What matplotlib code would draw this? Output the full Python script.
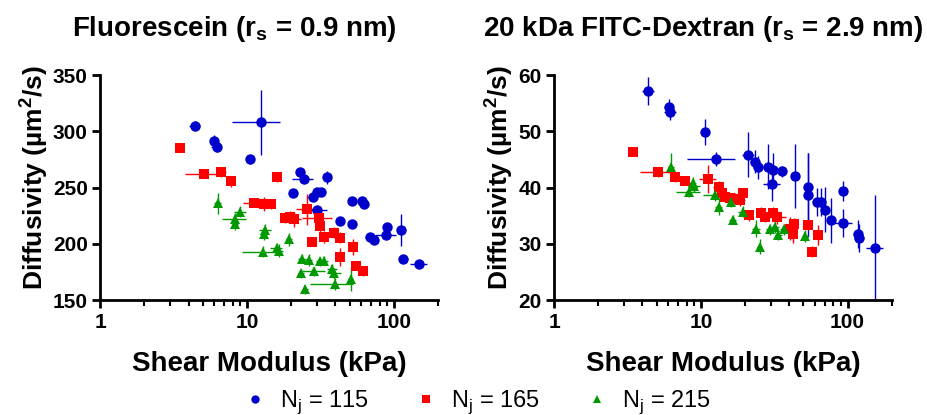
import matplotlib
matplotlib.use("Agg")
import matplotlib.pyplot as plt
from matplotlib.lines import Line2D
from matplotlib.ticker import LogLocator, NullFormatter, FixedLocator

plt.rcParams["font.family"] = ["Liberation Sans", "DejaVu Sans"]
plt.rcParams["mathtext.fontset"] = "custom"
plt.rcParams["mathtext.rm"] = "Liberation Sans"
plt.rcParams["mathtext.bf"] = "Liberation Sans:bold"

# ---- Fluorescein ----
fl_115_x = [4.4, 6.0, 6.2, 12.4, 10.5, 22.9, 24.3, 35.1, 20.6, 28.2, 30.0, 32.0, 30.0,
            43.3, 52.0, 52.0, 60.8, 62.4, 68.6, 73.8, 90.1, 89.1, 112, 116, 148]
fl_115_y = [305, 291.6, 286.3, 308.2, 275.3, 263.5, 257.6, 259, 245.4, 241.9, 245.7, 245.7, 230,
            220, 238.3, 217.3, 238, 235.3, 205.7, 203.3, 215, 207.7, 212.2, 186.4, 182]
fl_115_xerr = [0.4, 0.3, 0.5, 4.5, 0.3, 1.5, 4, 1.5, 0.8, 2, 2, 2, 5,
               1, 1, 1.5, 2, 3, 5, 2, 2, 15, 4, 8, 20]
fl_115_yerr = [4, 5, 5, 29, 4, 4, 3, 6, 3, 4, 3, 3, 3,
               3, 2, 3, 3, 3, 3, 2, 3, 3, 14, 3, 2]

fl_165_x = [3.47, 5.07, 6.68, 7.78, 15.9, 11.1, 13.0, 14.6, 18.1, 19.7, 21.0, 25.7,
            30.8, 31.6, 27.7, 33.3, 39, 42.8, 42.8, 52.8, 55.6, 61.8]
fl_165_y = [284.8, 262, 263.5, 255.5, 259, 235.9, 235.3, 235.3, 222.6, 224, 221.7, 230.6,
            222.6, 216, 201.9, 206, 209.9, 205.4, 188.5, 197.4, 180.5, 175.8]
fl_165_xerr = [0.1, 1.3, 0.5, 0.3, 1.0, 1.7, 0.5, 0.8, 1.2, 2, 2.5, 4,
               7, 1.5, 2, 2, 1, 1.5, 1, 1.5, 2, 2]
fl_165_yerr = [2, 3, 4, 5, 4, 3, 6, 4, 4, 5, 7, 14,
               7, 7, 4, 5, 5, 5, 8, 7, 4, 4]

fl_215_x = [6.3, 8.3, 8.3, 9.0, 13.1, 13.3, 12.8, 15.9, 16.5, 19.3, 23.7, 26.3, 23.3,
            28.8, 31.6, 33.2, 38, 39.4, 25, 40, 50.7]
fl_215_y = [235.9, 222, 218, 228.5, 209, 212, 193, 196, 194, 203.9, 186.5, 185.6, 173.7,
            175.8, 184.7, 185, 177.3, 173.7, 159.5, 164.2, 168.7]
fl_215_xerr = [0.3, 1.5, 0.4, 0.8, 0.8, 1.2, 3.5, 1.5, 1, 1, 1.5, 1.5, 1.2,
               5, 2, 2.5, 3, 4, 1, 13, 2]
fl_215_yerr = [9, 5, 6, 5, 6, 6, 5, 5, 6, 6, 4, 5, 4,
               4, 4, 4, 5, 5, 4, 5, 11]

# ---- 20 kDa FITC-Dextran ----
dx_115_x = [4.4, 6.05, 6.2, 10.7, 12.6, 21.0, 23.5, 24.7, 28.8, 31.2, 36, 30.4,
            44, 53.6, 53.6, 61.5, 65.5, 69.8, 76.8, 92.4, 92.4, 117, 120, 154]
dx_115_y = [57.2, 54.25, 53.5, 49.9, 45.1, 45.8, 44.6, 43.6, 43.7, 43.1, 42.9, 40.6,
            42.0, 40.1, 38.7, 37.5, 37.5, 36.1, 34.2, 33.7, 39.4, 31.7, 31.1, 29.3]
dx_115_xerr = [0.4, 0.4, 0.6, 0.5, 4.5, 2, 2, 2, 2, 2, 2, 4,
               1, 2, 2, 3, 3, 3, 3, 15, 5, 8, 10, 20]
dx_115_yerr = [2.5, 1.5, 1.5, 2.3, 1.2, 4, 2, 2, 4, 3, 1, 3,
               5.7, 6, 7.5, 2.5, 2.5, 4, 4, 2.5, 1.8, 2.5, 2.5, 9.4]

dx_165_x = [3.44, 5.08, 6.72, 7.76, 11.2, 13.2, 13.9, 14.5, 15.7, 17.0, 18.4, 19.4,
            21.2, 25.9, 27.4, 31.2, 32.9, 40.2, 42.9, 42.4, 53.6, 63.1, 57.4]
dx_165_y = [46.25, 42.7, 41.8, 41.2, 41.6, 40.1, 39.1, 38.4, 38.1, 38.0, 37.8, 39.0,
            35.1, 35.5, 34.8, 35.4, 34.8, 32.7, 33.6, 31.7, 33.3, 31.6, 28.6]
dx_165_xerr = [0.1, 1.2, 0.4, 0.4, 1.5, 1, 0.8, 0.8, 1, 1, 1.5, 1,
               1.5, 2, 2, 3, 5, 2, 2, 2, 1.5, 2, 1.5]
dx_165_yerr = [0.3, 0.8, 0.8, 0.8, 2.5, 1, 1, 1, 1, 1, 1, 1,
               1, 1, 1, 1.2, 1.2, 2, 1, 1.5, 0.8, 1.8, 1]

dx_215_x = [6.3, 8.3, 8.8, 9.0, 12.4, 13.2, 16.1, 16.5, 19.4, 23.9, 25.2, 29.6,
            32.1, 33.8, 36.6, 51.6]
dx_215_y = [43.7, 39.3, 40.9, 40.3, 38.7, 36.6, 37.5, 34.3, 35.7, 32.7, 29.5, 32.6,
            33.0, 31.6, 32.6, 31.4]
dx_215_xerr = [0.3, 1.5, 0.5, 0.8, 2, 0.8, 1.5, 1, 1.5, 1.5, 1, 2,
               2, 2, 2, 2]
dx_215_yerr = [2.5, 1, 1, 1, 1, 1.5, 1, 0.8, 1, 1.5, 1.3, 1,
               1, 1, 1, 1]

labels = ["115", "165", "215"]
colors = ["#0000cc", "#ff0000", "#009a00"]
markers = ["o", "s", "^"]

fig = plt.figure(figsize=(9.28, 4.15), dpi=100)
ax1 = fig.add_axes([0.108, 0.277, 0.364, 0.542])
ax2 = fig.add_axes([0.597, 0.277, 0.364, 0.542])

panels = [
    (ax1, [(fl_115_x, fl_115_y, fl_115_xerr, fl_115_yerr),
           (fl_165_x, fl_165_y, fl_165_xerr, fl_165_yerr),
           (fl_215_x, fl_215_y, fl_215_xerr, fl_215_yerr)],
     (150, 350), [150, 200, 250, 300, 350],
     r"Fluorescein (r$_\mathbf{s}$ = 0.9 nm)", 0.398),
    (ax2, [(dx_115_x, dx_115_y, dx_115_xerr, dx_115_yerr),
           (dx_165_x, dx_165_y, dx_165_xerr, dx_165_yerr),
           (dx_215_x, dx_215_y, dx_215_xerr, dx_215_yerr)],
     (20, 60), [20, 30, 40, 50, 60],
     r"20 kDa FITC-Dextran (r$_\mathbf{s}$ = 2.9 nm)", 0.441),
]

for ax, series, ylim, yticks, title, tx in panels:
    for (x, y, xe, ye), c, m in zip(series, colors, markers):
        ax.errorbar(x, y, xerr=xe, yerr=ye, fmt=m, color=c, ecolor=c,
                    markersize=7.5, elinewidth=1, capsize=3, capthick=1,
                    markeredgewidth=0, clip_on=False)
    ax.set_xscale("log")
    ax.set_xlim(1, 200)
    ax.set_ylim(*ylim)
    ax.yaxis.set_major_locator(FixedLocator(yticks))
    ax.xaxis.set_major_locator(FixedLocator([1, 10, 100]))
    ax.xaxis.set_minor_locator(LogLocator(base=10, subs=range(2, 10)))
    ax.xaxis.set_minor_formatter(NullFormatter())
    ax.set_xticklabels(["1", "10", "100"])
    for s in ["top", "right"]:
        ax.spines[s].set_visible(False)
    for s in ["left", "bottom"]:
        ax.spines[s].set_linewidth(2)
    ax.tick_params(which="major", width=2, length=6, labelsize=15, pad=3)
    ax.tick_params(which="minor", width=1.5, length=4)
    for t in ax.get_xticklabels() + ax.get_yticklabels():
        t.set_fontweight("bold")
    ax.set_xlabel("Shear Modulus (kPa)", fontsize=20, fontweight="bold", labelpad=14)
    ax.set_ylabel(r"Diffusivity (µm$^\mathbf{2}$/s)", fontsize=19, fontweight="bold", labelpad=2)
    ax.yaxis.label.set_y(0.545)
    ax.set_title(title, fontsize=20, fontweight="bold", pad=28, x=tx)

handles = [Line2D([], [], linestyle="none", marker=m, color=c, markersize=6, markeredgewidth=0)
           for m, c in zip(markers, colors)]
fig.legend(handles, [r"N$_\mathrm{j}$ = " + l for l in labels], loc="center",
           ncol=3, frameon=False, fontsize=17, bbox_to_anchor=(0.514, 0.031),
           columnspacing=1.9, handletextpad=0.56, handlelength=1.0)

fig.savefig("out.png", dpi=100)
